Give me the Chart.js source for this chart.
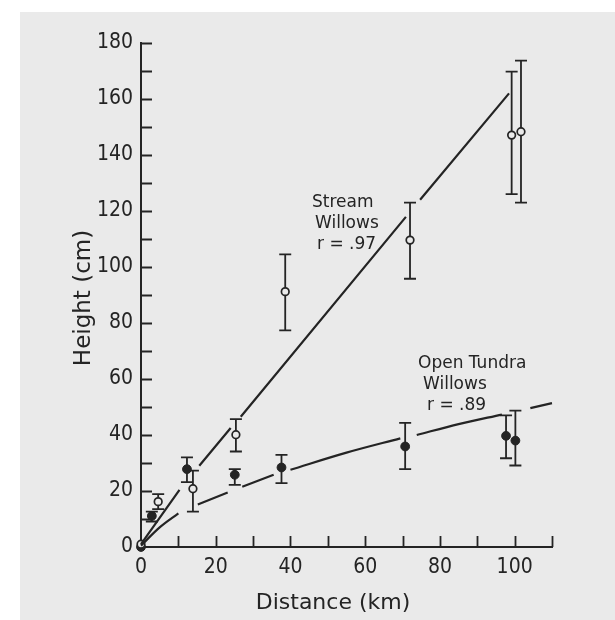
<!DOCTYPE html>
<html>
<head>
<meta charset="utf-8">
<script src="https://cdn.jsdelivr.net/npm/chart.js@4.4.0/dist/chart.umd.min.js"></script>
<style>
  html, body { margin: 0; padding: 0; background: #ffffff; }
  canvas { display: block; }
</style>
</head>
<body>
<canvas id="c" width="615" height="620"></canvas>
<script>
// ---------------- data ----------------
// Stream willows (open circles): distance (km), mean height (cm), error bar low/high
const streamDist = [0, 4.6, 13.9, 25.4, 38.6, 72, 99.2, 101.7];
const streamHeight = [1, 16.2, 20.8, 40.1, 91.2, 109.6, 147.1, 148.3];
const streamLow = [null, 13.5, 12.6, 34.1, 77.4, 95.8, 126, 123];
const streamHigh = [null, 18.9, 27.3, 45.7, 104.5, 123, 169.8, 173.7];

// Open tundra willows (filled circles)
const tundraDist = [0, 2.9, 12.3, 25.1, 37.6, 70.7, 97.7, 100.2];
const tundraHeight = [0, 11.1, 27.8, 25.8, 28.4, 35.9, 39.7, 38];
const tundraLow = [null, 9.1, 23.2, 22.2, 22.8, 27.8, 31.7, 29.1];
const tundraHigh = [null, 12.6, 32, 27.8, 32.9, 44.3, 47, 48.7];

// Fitted lines as drawn (null = the break in the drawn line)
const streamFitDist = [0, 10.3, 13, 15.6, 24, 25.4, 26.7, 70.9, 72.8, 74.7, 98.5];
const streamFitHeight = [1, 20.4, null, 29, 42.5, null, 46.5, 117.9, null, 124, 162];
const tundraFitDist = [0, 5, 10, 12.7, 15.2, 23.2, 25.2, 27.1, 35.5, 37.7, 40, 55, 69.4, 71.6, 73.8, 85, 96.6, 100.4, 104.2, 110];
const tundraFitHeight = [0.5, 7, 12, null, 15.2, 19.5, null, 21.5, 25.8, null, 27.6, 33.7, 38.8, null, 40, 43.9, 47.3, null, 49.6, 51.4];

// Axes
const xMin = 0, xMax = 110, xStep = 10, xLabelStep = 20, xLabelMax = 100;
const yMin = 0, yMax = 180, yStep = 10, yLabelStep = 20;

// Texts
const xTitle = 'Distance (km)';
const yTitle = 'Height (cm)';
const streamLabel = ['Stream', 'Willows', 'r = .97'];
const tundraLabel = ['Open Tundra', 'Willows', 'r = .89'];

// ---------------- styling ----------------
const INK = '#242424';
const PAPER = '#eaeaea';
const TICK_FONT = "'Liberation Sans Narrow', 'DejaVu Sans Condensed', 'Arial Narrow', sans-serif";
const TEXT_FONT = "'DejaVu Sans', sans-serif";

function zip(xs, ys) { return xs.map((x, i) => ({ x: x, y: ys[i] })); }

const paperPlugin = {
  id: 'paper',
  beforeDraw(chart) {
    const ctx = chart.ctx;
    ctx.save();
    ctx.fillStyle = '#ffffff';
    ctx.fillRect(0, 0, chart.width, chart.height);
    ctx.fillStyle = PAPER;
    ctx.fillRect(20, 12, chart.width - 20, chart.height - 12);
    ctx.restore();
  }
};

const errorBarPlugin = {
  id: 'errorBars',
  beforeDatasetsDraw(chart) {
    const ctx = chart.ctx, xs = chart.scales.x, ys = chart.scales.y;
    ctx.save();
    ctx.strokeStyle = INK;
    ctx.lineWidth = 1.8;
    chart.data.datasets.forEach(ds => {
      if (!ds.errLow) return;
      ds.data.forEach((p, i) => {
        const lo = ds.errLow[i], hi = ds.errHigh[i];
        if (lo == null || hi == null) return;
        const px = xs.getPixelForValue(p.x);
        const y1 = ys.getPixelForValue(lo), y2 = ys.getPixelForValue(hi);
        ctx.beginPath();
        ctx.moveTo(px, y1); ctx.lineTo(px, y2);
        ctx.moveTo(px - 6, y1); ctx.lineTo(px + 6, y1);
        ctx.moveTo(px - 6, y2); ctx.lineTo(px + 6, y2);
        ctx.stroke();
      });
    });
    ctx.restore();
  }
};

const innerTicksPlugin = {
  id: 'innerTicks',
  afterDraw(chart) {
    const { ctx, chartArea: a, scales: { x, y } } = chart;
    ctx.save();
    ctx.strokeStyle = INK;
    ctx.lineWidth = 1.8;
    ctx.beginPath();
    y.ticks.forEach(t => {
      if (t.value === yMin) return;
      const py = Math.round(y.getPixelForValue(t.value)) + 0.5;
      ctx.moveTo(a.left, py); ctx.lineTo(a.left + 11, py);
    });
    x.ticks.forEach(t => {
      if (t.value === xMin) return;
      const px = Math.round(x.getPixelForValue(t.value)) + 0.5;
      ctx.moveTo(px, a.bottom); ctx.lineTo(px, a.bottom - 11);
    });
    ctx.stroke();
    ctx.restore();
  }
};

const textPlugin = {
  id: 'texts',
  afterDraw(chart) {
    const ctx = chart.ctx;
    ctx.save();
    ctx.fillStyle = INK;
    ctx.textBaseline = 'middle';
    // axis titles
    ctx.font = '22px ' + TEXT_FONT;
    ctx.textAlign = 'center';
    ctx.fillText(xTitle, 333, 603);
    ctx.save();
    ctx.translate(84, 298);
    ctx.rotate(-Math.PI / 2);
    ctx.font = '23px ' + TEXT_FONT;
    ctx.fillText(yTitle, 0, 0);
    ctx.restore();
    // curve labels
    ctx.font = '17px ' + TEXT_FONT;
    ctx.textAlign = 'left';
    const sx = [312, 315, 317], sy = [203, 224, 245];
    streamLabel.forEach((s, i) => ctx.fillText(s, sx[i], sy[i]));
    const tx = [418, 423, 427], ty = [364, 385, 406];
    tundraLabel.forEach((s, i) => ctx.fillText(s, tx[i], ty[i]));
    ctx.restore();
  }
};

const tickFont = { family: TICK_FONT, size: 21 };

new Chart(document.getElementById('c'), {
  type: 'scatter',
  data: {
    datasets: [
      {
        label: 'Stream fit',
        type: 'line',
        data: zip(streamFitDist, streamFitHeight),
        borderColor: INK, borderWidth: 2.2, pointRadius: 0, tension: 0,
        spanGaps: false, fill: false, clip: false
      },
      {
        label: 'Open tundra fit',
        type: 'line',
        data: zip(tundraFitDist, tundraFitHeight),
        borderColor: INK, borderWidth: 2.2, pointRadius: 0,
        cubicInterpolationMode: 'monotone',
        spanGaps: false, fill: false, clip: false
      },
      {
        label: 'Stream Willows',
        data: zip(streamDist, streamHeight),
        errLow: streamLow, errHigh: streamHigh,
        pointStyle: 'circle', pointRadius: 3.8,
        pointBackgroundColor: PAPER, pointBorderColor: INK, pointBorderWidth: 1.7,
        clip: false
      },
      {
        label: 'Open Tundra Willows',
        data: zip(tundraDist, tundraHeight),
        errLow: tundraLow, errHigh: tundraHigh,
        pointStyle: 'circle', pointRadius: 4.4,
        pointBackgroundColor: INK, pointBorderColor: INK, pointBorderWidth: 1,
        clip: false
      }
    ]
  },
  options: {
    responsive: false,
    animation: false,
    devicePixelRatio: 1,
    layout: { padding: { top: 43, right: 63, bottom: 0, left: 0 } },
    plugins: { legend: { display: false }, tooltip: { enabled: false } },
    scales: {
      x: {
        type: 'linear', min: xMin, max: xMax,
        afterFit(s) { s.height = 73; },
        grid: { display: false, drawTicks: false },
        border: { display: true, color: INK, width: 2 },
        ticks: {
          stepSize: xStep, autoSkip: false, maxRotation: 0, padding: 8,
          color: INK, font: tickFont,
          callback: v => (v % xLabelStep === 0 && v <= xLabelMax) ? String(v) : ''
        }
      },
      y: {
        type: 'linear', min: yMin, max: yMax,
        afterFit(s) { s.width = 141; },
        grid: { display: false, drawTicks: false },
        border: { display: true, color: INK, width: 2 },
        ticks: {
          stepSize: yStep, autoSkip: false, padding: 8,
          color: INK, font: tickFont,
          callback: v => (v % yLabelStep === 0) ? String(v) : ''
        }
      }
    }
  },
  plugins: [paperPlugin, errorBarPlugin, innerTicksPlugin, textPlugin]
});
</script>
</body>
</html>
